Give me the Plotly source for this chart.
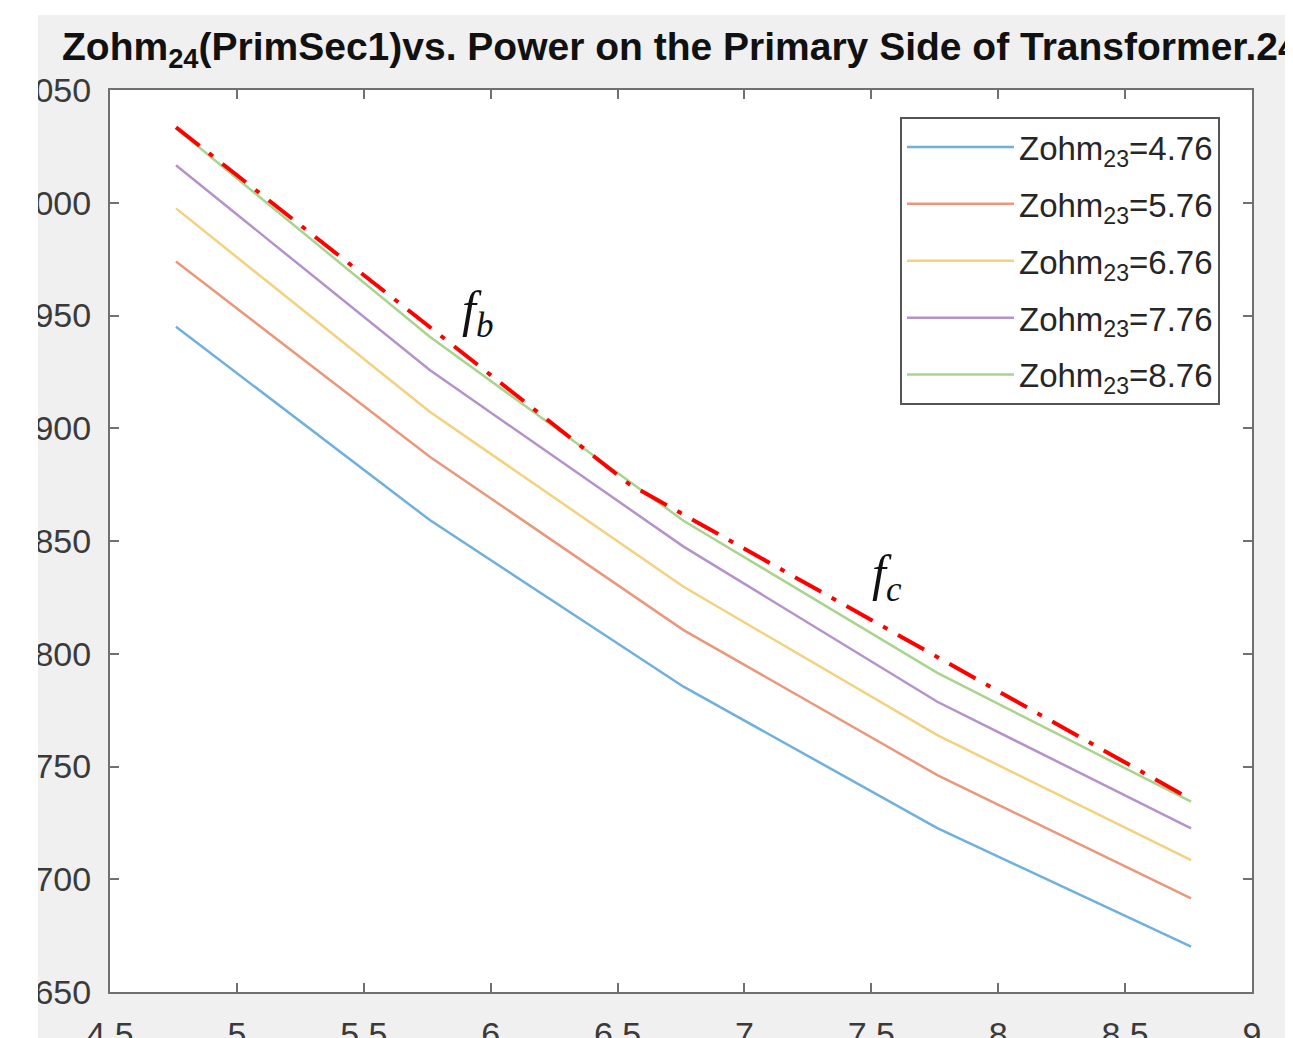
import plotly.graph_objects as go

# ---- data ----
x_vals = [4.76, 5.76, 6.76, 7.76, 8.76]
series_names = ["Zohm<sub>23</sub>=4.76", "Zohm<sub>23</sub>=5.76", "Zohm<sub>23</sub>=6.76",
                "Zohm<sub>23</sub>=7.76", "Zohm<sub>23</sub>=8.76"]
y_476 = [945.0, 859.3, 785.4, 722.7, 670.1]
y_576 = [973.9, 887.4, 810.5, 746.2, 691.5]
y_676 = [997.5, 907.3, 829.7, 763.9, 708.5]
y_776 = [1016.6, 925.8, 847.5, 778.7, 722.6]
y_876 = [1033.0, 940.6, 859.0, 791.5, 734.4]
series_values = [y_476, y_576, y_676, y_776, y_876]
series_colors = ["#6fb0dc", "#e9987c", "#f3d27e", "#b593c9", "#a8d48e"]

# hand-drawn envelope (red dash-dot)
env_x = [4.76, 6.545, 8.75]
env_y = [1033.5, 875.3, 736.0]

# annotation labels
label_text = ["<i>f<sub>b</sub></i>", "<i>f<sub>c</sub></i>"]
label_x = [5.95, 7.56]
label_y = [951.0, 834.0]

x_ticks = [4.5, 5, 5.5, 6, 6.5, 7, 7.5, 8, 8.5, 9]
y_ticks = [650, 700, 750, 800, 850, 900, 950, 1000, 1050]

fig = go.Figure()
for name, vals, col in zip(series_names, series_values, series_colors):
    fig.add_trace(go.Scatter(x=x_vals, y=vals, mode="lines", name=name, legendgroup=name,
                             line=dict(color=col, width=2.5)))

fig.add_trace(go.Scatter(x=env_x, y=env_y, mode="lines", showlegend=False,
                         line=dict(color="#ff0000", width=4, dash="30px,12px,5px,12px")))

for t, lx, ly in zip(label_text, label_x, label_y):
    fig.add_annotation(x=lx, y=ly, text=t, showarrow=False,
                       font=dict(family="Liberation Serif", size=50, color="#111111"))

# the page body adds an 8px margin, so the figure is 8px smaller than the window
W, H = 1285, 1030
L, R, T, B = 102, 41, 82, 46
pw, ph = W - L - R, H - T - B

def px_to_paper_x(px):
    return (px - L) / pw

def px_to_paper_y(py):
    return (H - B - py) / ph

# white strips (the reference image is cropped with white margins)
fig.add_shape(type="rect", xref="paper", yref="paper", layer="above",
              x0=px_to_paper_x(-5), x1=px_to_paper_x(30), y0=px_to_paper_y(H + 5), y1=px_to_paper_y(-5),
              fillcolor="white", line=dict(width=0))
fig.add_shape(type="rect", xref="paper", yref="paper", layer="above",
              x0=px_to_paper_x(-5), x1=px_to_paper_x(W + 5), y0=px_to_paper_y(7), y1=px_to_paper_y(-5),
              fillcolor="white", line=dict(width=0))

axis_common = dict(showline=True, linecolor="#707070", linewidth=2, mirror="ticks",
                   ticks="inside", ticklen=9, tickwidth=1.5, tickcolor="#707070",
                   showgrid=False, zeroline=False, automargin=False,
                   tickfont=dict(family="Liberation Sans", size=34, color="#3a3a3a"))

fig.update_xaxes(range=[4.5, 9], tickvals=x_ticks, ticktext=[f"{v:g}" for v in x_ticks],
                 ticklabelstandoff=11, **axis_common)
fig.update_yaxes(range=[650, 1050], tickvals=y_ticks, ticktext=[str(v) for v in y_ticks],
                 ticklabelstandoff=10, **axis_common)

fig.update_layout(
    width=W, height=H,
    margin=dict(l=L, r=R, t=T, b=B, pad=0, autoexpand=False),
    paper_bgcolor="#f0f0f0", plot_bgcolor="white",
    title=dict(text="<b>Zohm<sub>24</sub>(PrimSec1)vs. Power on the Primary Side of Transformer.24</b>",
               xref="container", yref="container", x=54 / W, xanchor="left",
               y=1 - 38 / H, yanchor="middle", automargin=False,
               font=dict(family="Liberation Sans", size=39, color="#111111")),
    legend=dict(x=px_to_paper_x(892), y=px_to_paper_y(109), xanchor="left", yanchor="top",
                bgcolor="white", bordercolor="#555555", borderwidth=2,
                font=dict(family="Liberation Sans", size=33, color="#262626"),
                itemwidth=107, tracegroupgap=11),
    showlegend=True,
)

fig.write_html("out.html")
